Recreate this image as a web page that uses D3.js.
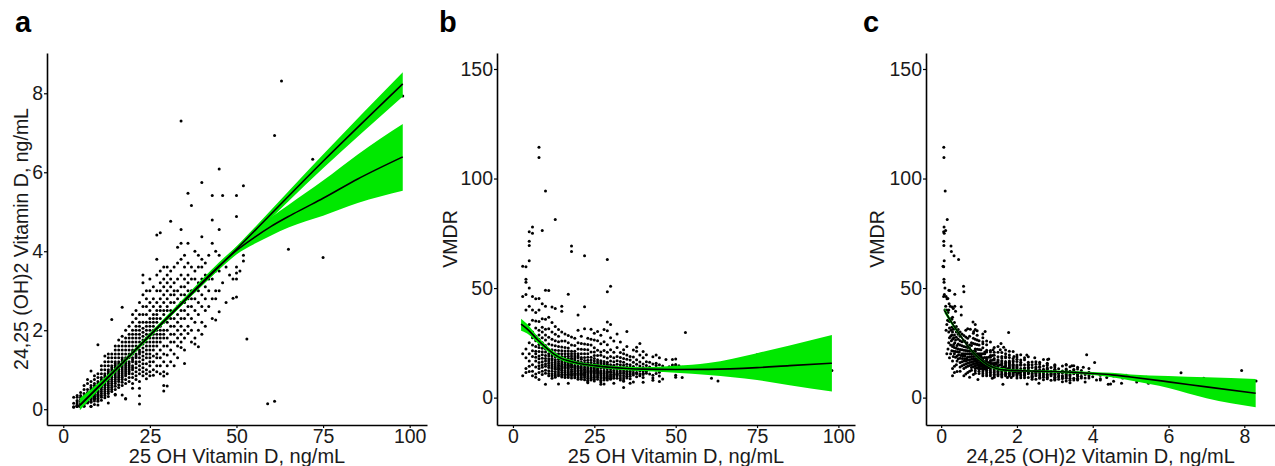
<!DOCTYPE html>
<html>
<head>
<meta charset="utf-8">
<script src="https://cdn.jsdelivr.net/npm/d3@7/dist/d3.min.js"></script>
<style>
body { margin: 0; background: #fff; }
svg { font-family: "Liberation Sans", Arial, sans-serif; }
</style>
</head>
<body>
<svg id="chart" width="1275" height="466"></svg>
<script>
// 24,25 (OH)2 vitamin D readings, grouped by 25 OH vitamin D (ng/mL)
const samples = [
    [3, [0.05, 0.065, 0.15, 0.3]],
    [4, [0.067, 0.074, 0.076, 0.085, 0.1, 0.13, 0.18, 0.22, 0.3, 0.35]],
    [5, [0.066, 0.07, 0.072, 0.08, 0.1, 0.12, 0.15, 0.2, 0.25, 0.3, 0.35, 0.42]],
    [6, [0.077, 0.08, 0.13, 0.15, 0.17, 0.2, 0.22, 0.25, 0.28, 0.32, 0.4, 0.5, 0.6]],
    [7, [0.155, 0.18, 0.2, 0.22, 0.25, 0.27, 0.3, 0.33, 0.35, 0.38, 0.42, 0.5, 0.65, 0.75]],
    [8, [0.07, 0.073, 0.177, 0.2, 0.23, 0.26, 0.28, 0.3, 0.33, 0.35, 0.38, 0.42, 0.45, 0.5, 0.55, 0.6, 0.7, 0.97]],
    [9, [0.118, 0.21, 0.25, 0.28, 0.3, 0.33, 0.36, 0.4, 0.43, 0.46, 0.5, 0.55, 0.6, 0.65, 0.75, 0.85]],
    [10, [0.106, 0.204, 0.24, 0.28, 0.32, 0.35, 0.38, 0.42, 0.45, 0.48, 0.52, 0.56, 0.6, 0.65, 0.7, 0.8, 0.9, 1.63]],
    [11, [0.225, 0.3, 0.35, 0.4, 0.45, 0.5, 0.55, 0.58, 0.62, 0.66, 0.7, 0.75, 0.8, 0.9, 1.0, 1.1]],
    [12, [0.29, 0.35, 0.4, 0.45, 0.5, 0.55, 0.6, 0.63, 0.67, 0.7, 0.75, 0.8, 0.85, 0.9, 1.0, 1.1, 1.2, 1.35]],
    [13, [0.16, 0.32, 0.4, 0.45, 0.5, 0.55, 0.6, 0.65, 0.7, 0.75, 0.8, 0.85, 0.9, 0.95, 1.0, 1.1, 1.2, 1.3, 1.4]],
    [14, [0.45, 0.5, 0.55, 0.6, 0.65, 0.7, 0.75, 0.8, 0.85, 0.9, 0.95, 1.0, 1.05, 1.1, 1.2, 1.3, 1.4, 2.27]],
    [15, [0.36, 0.38, 0.5, 0.58, 0.65, 0.7, 0.75, 0.8, 0.85, 0.9, 0.95, 1.0, 1.05, 1.1, 1.15, 1.2, 1.3, 1.4, 1.5, 1.6]],
    [16, [0.55, 0.62, 0.7, 0.75, 0.8, 0.85, 0.9, 0.95, 1.0, 1.05, 1.1, 1.15, 1.2, 1.3, 1.4, 1.5, 1.6, 1.75]],
    [17, [0.36, 0.6, 0.68, 0.75, 0.8, 0.85, 0.9, 0.95, 1.0, 1.05, 1.1, 1.15, 1.2, 1.25, 1.3, 1.4, 1.5, 1.6, 1.7, 1.85, 2.58]],
    [18, [0.26, 0.27, 0.65, 0.75, 0.85, 0.9, 0.95, 1.0, 1.05, 1.1, 1.15, 1.2, 1.25, 1.3, 1.4, 1.5, 1.6, 1.7, 1.8, 2.0]],
    [19, [0.7, 0.8, 0.9, 0.95, 1.0, 1.05, 1.1, 1.15, 1.2, 1.3, 1.35, 1.4, 1.5, 1.6, 1.7, 1.8, 1.9, 2.1]],
    [20, [0.53, 0.65, 0.8, 0.9, 1.0, 1.05, 1.1, 1.2, 1.25, 1.3, 1.4, 1.45, 1.5, 1.6, 1.7, 1.8, 1.9, 2.0, 2.2, 2.4]],
    [21, [0.75, 0.85, 0.95, 1.05, 1.15, 1.2, 1.3, 1.35, 1.4, 1.5, 1.6, 1.7, 1.8, 1.9, 2.0, 2.1, 2.3, 2.5]],
    [22, [0.13, 0.34, 0.53, 0.7, 0.9, 1.0, 1.1, 1.2, 1.3, 1.4, 1.45, 1.5, 1.6, 1.7, 1.8, 1.9, 2.0, 2.1, 2.2, 2.4, 2.7]],
    [23, [0.85, 0.95, 1.05, 1.15, 1.25, 1.35, 1.45, 1.55, 1.65, 1.75, 1.85, 1.95, 2.05, 2.2, 2.4, 2.6, 2.9, 3.2, 3.4]],
    [24, [0.77, 0.9, 1.0, 1.15, 1.3, 1.4, 1.5, 1.6, 1.7, 1.8, 1.9, 2.0, 2.1, 2.2, 2.4, 2.6, 2.8, 3.0]],
    [25, [0.85, 0.95, 1.1, 1.2, 1.3, 1.4, 1.5, 1.6, 1.7, 1.8, 1.9, 2.0, 2.1, 2.2, 2.3, 2.5, 2.7, 3.0, 3.3]],
    [26, [0.86, 1.0, 1.2, 1.35, 1.5, 1.6, 1.7, 1.8, 1.9, 2.0, 2.1, 2.2, 2.3, 2.4, 2.6, 2.8, 3.1]],
    [27, [0.95, 1.1, 1.3, 1.4, 1.6, 1.7, 1.8, 1.9, 2.0, 2.2, 2.3, 2.4, 2.5, 2.7, 3.0, 3.4, 3.8, 4.41]],
    [28, [0.9, 1.1, 1.3, 1.5, 1.7, 1.8, 1.9, 2.0, 2.1, 2.3, 2.5, 2.6, 2.8, 3.0, 3.2, 3.5, 4.47]],
    [29, [0.46, 0.6, 0.84, 0.95, 1.2, 1.4, 1.6, 1.8, 1.9, 2.0, 2.2, 2.4, 2.5, 2.7, 2.9, 3.1, 3.3, 3.6]],
    [30, [0.59, 0.9, 1.1, 1.37, 1.6, 1.8, 2.0, 2.2, 2.3, 2.5, 2.6, 2.8, 3.0, 3.2, 3.4, 3.6]],
    [31, [1.2, 1.5, 1.7, 1.9, 2.1, 2.3, 2.5, 2.7, 2.9, 3.1, 3.3, 3.5, 4.76]],
    [32, [1.1, 1.4, 1.7, 1.9, 2.1, 2.3, 2.5, 2.7, 2.9, 3.0, 3.2, 3.6]],
    [33, [1.3, 1.6, 1.8, 2.0, 2.2, 2.4, 2.6, 2.8, 3.0, 3.3, 3.7, 4.1]],
    [34, [1.56, 1.7, 1.9, 2.1, 2.3, 2.5, 2.7, 2.9, 3.1, 3.4, 3.8, 4.2, 4.55, 7.3]],
    [35, [1.16, 1.5, 1.8, 2.0, 2.3, 2.5, 2.7, 2.9, 3.1, 3.3, 3.6, 3.9]],
    [36, [1.92, 2.1, 2.4, 2.6, 2.8, 3.0, 3.2, 3.4, 3.7, 4.2, 5.47]],
    [37, [1.7, 2.0, 2.3, 2.6, 2.8, 3.0, 3.3, 3.6, 5.16]],
    [38, [1.65, 1.8, 2.2, 2.5, 2.8, 3.0, 3.3, 3.5, 4.0]],
    [39, [1.58, 2.0, 2.4, 2.7, 3.0, 3.2, 3.6, 3.9]],
    [40, [1.9, 2.2, 2.6, 2.9, 3.3, 3.6, 3.8, 4.37, 5.74]],
    [41, [2.1, 2.5, 2.8, 3.1, 3.4, 3.7]],
    [42, [2.6, 3.0, 3.3, 3.9]],
    [43, [2.3, 2.8, 3.3, 4.2, 4.79, 5.41]],
    [44, [2.26, 2.8, 3.0, 3.5, 4.0]],
    [45, [2.47, 3.0, 3.5, 3.9, 4.55, 6.08]],
    [46, [3.2, 3.7, 5.41]],
    [47, [2.7, 3.6]],
    [48, [3.4]],
    [49, [2.81, 3.3]],
    [50, [2.84, 3.3, 3.45, 3.6, 4.88, 5.41]],
    [51, [3.5]],
    [52, [3.75, 3.9, 5.66]],
    [53, [1.78]],
    [59, [0.14]],
    [61, [0.2, 6.93]],
    [63, [8.31]],
    [65, [4.05]],
    [72, [6.33]],
    [75, [3.84]],
    [98, [7.93]]
];

// fitted curves: [x, fit, lower 95% CI, upper 95% CI]
const linearFitA = [
    [4.8, 0.1, -0.02, 0.28], [10, 0.56, 0.48, 0.65], [25, 1.87, 1.82, 1.92],
    [50, 4.05, 3.98, 4.12], [75, 6.28, 6.1, 6.45], [98, 8.24, 7.92, 8.53]
];
const splineFitA = [
    [4.8, 0.1, -0.02, 0.26], [15, 0.98, 0.92, 1.04], [25, 1.87, 1.81, 1.93], [35, 2.76, 2.7, 2.83],
    [45, 3.63, 3.54, 3.72], [50, 4.02, 3.92, 4.12], [55, 4.34, 4.18, 4.5], [60, 4.63, 4.4, 4.86],
    [65, 4.88, 4.6, 5.17], [70, 5.11, 4.76, 5.48], [75, 5.34, 4.9, 5.79], [85, 5.83, 5.22, 6.45],
    [98, 6.39, 5.53, 7.22]
];
const vmdrFitB = [
    [2.5, 33.5, 30.5, 36.0], [5, 30.5, 28.6, 32.6], [7.5, 26.5, 25.0, 28.0], [10, 23.0, 21.8, 24.2],
    [12.5, 20.0, 19.0, 21.0], [15, 17.8, 16.9, 18.7], [17.5, 16.6, 15.8, 17.4], [20, 15.7, 15.0, 16.4],
    [25, 14.6, 13.9, 15.3], [30, 13.8, 13.1, 14.5], [35, 13.3, 12.5, 14.1], [40, 13.0, 12.1, 13.9],
    [50, 12.8, 11.3, 14.5], [60, 12.9, 10.3, 15.8], [75, 13.7, 8.0, 20.3], [85, 14.6, 5.6, 23.8],
    [98, 15.7, 2.8, 28.6]
];
const vmdrFitC = [
    [0.09, 39.7, 38.5, 41.0], [0.25, 35.0, 34.0, 36.0], [0.5, 28.5, 27.8, 29.2], [0.75, 22.5, 21.8, 23.2],
    [1.0, 18.0, 17.3, 18.7], [1.25, 14.8, 14.2, 15.4], [1.5, 13.1, 12.5, 13.7], [1.75, 12.5, 11.9, 13.1],
    [2, 12.3, 11.8, 12.8], [2.5, 12.1, 11.6, 12.6], [3, 11.9, 11.4, 12.4], [3.5, 11.5, 10.9, 12.1],
    [4, 11.0, 10.3, 11.7], [4.5, 10.4, 9.3, 11.3], [5, 9.4, 7.8, 10.6], [6, 7.2, 4.4, 9.9],
    [7, 4.9, -0.3, 9.3], [8.3, 2.0, -4.4, 8.5]
];

const points = samples.flatMap(([oh, list]) => list.map(d => ({ oh: oh, dihydroxy: d, vmdr: oh / d })));

const svg = d3.select("#chart");
const green = "#00e800";
const textColor = "#1a1a1a";

function drawPanel(opts) {
    const x = d3.scaleLinear().domain(opts.xDomain).range(opts.xRange);
    const y = d3.scaleLinear().domain(opts.yDomain).range([425, 53]);
    const g = svg.append("g");

    const inside = d => {
        const xv = opts.xVal(d), yv = opts.yVal(d);
        return xv >= opts.xDomain[0] && xv <= opts.xDomain[1] && yv >= opts.yDomain[0] && yv <= opts.yDomain[1];
    };

    g.selectAll(".dot")
        .data(points.filter(inside))
        .enter()
        .append("circle")
        .attr("class", "dot")
        .attr("cx", d => x(opts.xVal(d)))
        .attr("cy", d => y(opts.yVal(d)))
        .attr("r", 1.5)
        .style("fill", "#000");

    const band = d3.area()
        .x(d => x(d[0]))
        .y0(d => y(d[2]))
        .y1(d => y(d[3]))
        .curve(d3.curveMonotoneX);
    const line = d3.line()
        .x(d => x(d[0]))
        .y(d => y(d[1]))
        .curve(d3.curveMonotoneX);

    opts.fits.forEach(f => {
        g.append("path").attr("d", band(f)).style("fill", green).style("stroke", "none");
    });
    opts.fits.forEach(f => {
        g.append("path").attr("d", line(f))
            .style("fill", "none").style("stroke", "#000").style("stroke-width", 1.6);
    });

    const xAxis = g.append("g")
        .attr("transform", "translate(0,425)")
        .call(d3.axisBottom(x).tickValues(opts.xTicks).tickSize(3).tickSizeOuter(0).tickPadding(1));
    const yAxis = g.append("g")
        .attr("transform", `translate(${opts.xRange[0]},0)`)
        .call(d3.axisLeft(y).tickValues(opts.yTicks).tickSize(3).tickSizeOuter(0).tickPadding(1));

    [xAxis, yAxis].forEach(a => {
        a.select(".domain").style("stroke", "#000").style("stroke-width", 1.6);
        a.selectAll(".tick line").style("stroke", "#000").style("stroke-width", 1.2);
        a.selectAll(".tick text")
            .style("font-size", "19.5px")
            .style("fill", textColor)
            .style("font-family", "'Liberation Sans', Arial, sans-serif");
    });

    g.append("text")
        .attr("x", (opts.xRange[0] + opts.xRange[1]) / 2)
        .attr("y", 463)
        .style("text-anchor", "middle")
        .style("font-size", "20px")
        .style("fill", textColor)
        .text(opts.xTitle);

    g.append("text")
        .attr("transform", `translate(${opts.yTitleX},239) rotate(-90)`)
        .style("text-anchor", "middle")
        .style("font-size", "19.5px")
        .style("fill", textColor)
        .text(opts.yTitle);

    g.append("text")
        .attr("x", opts.labelX)
        .attr("y", 32)
        .style("font-size", "29px")
        .style("font-weight", "bold")
        .style("fill", "#000")
        .text(opts.label);
}

drawPanel({
    label: "a", labelX: 15,
    xDomain: [-4.7, 105], xRange: [47, 427],
    yDomain: [-0.4, 9.02],
    xTicks: [0, 25, 50, 75, 100], yTicks: [0, 2, 4, 6, 8],
    xVal: d => d.oh, yVal: d => d.dihydroxy,
    fits: [splineFitA, linearFitA],
    xTitle: "25 OH Vitamin D, ng/mL", yTitle: "24,25 (OH)2 Vitamin D, ng/mL", yTitleX: 28
});

drawPanel({
    label: "b", labelX: 439,
    xDomain: [-4.9, 105.1], xRange: [497, 855],
    yDomain: [-12.5, 157.3],
    xTicks: [0, 25, 50, 75, 100], yTicks: [0, 50, 100, 150],
    xVal: d => d.oh, yVal: d => d.vmdr,
    fits: [vmdrFitB],
    xTitle: "25 OH Vitamin D, ng/mL", yTitle: "VMDR", yTitleX: 457
});

drawPanel({
    label: "c", labelX: 863,
    xDomain: [-0.4, 8.81], xRange: [926, 1275],
    yDomain: [-12.5, 157.3],
    xTicks: [0, 2, 4, 6, 8], yTicks: [0, 50, 100, 150],
    xVal: d => d.dihydroxy, yVal: d => d.vmdr,
    fits: [vmdrFitC],
    xTitle: "24,25 (OH)2 Vitamin D, ng/mL", yTitle: "VMDR", yTitleX: 884
});
</script>
</body>
</html>
